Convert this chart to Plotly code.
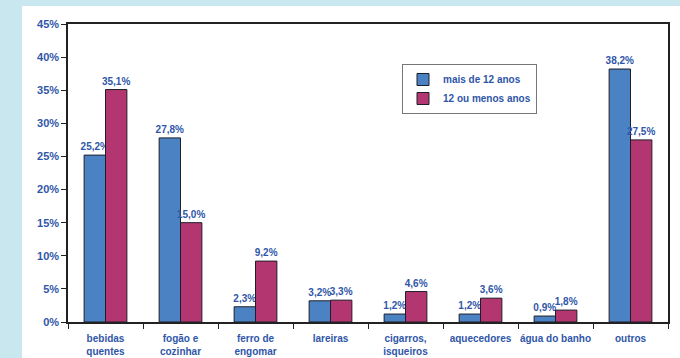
import plotly.graph_objects as go

categories = ["bebidas<br>quentes", "fogão e<br>cozinhar", "ferro de<br>engomar", "lareiras",
              "cigarros,<br>isqueiros", "aquecedores", "água do banho", "outros"]
over12 = [25.2, 27.8, 2.3, 3.2, 1.2, 1.2, 0.9, 38.2]
under12 = [35.1, 15.0, 9.2, 3.3, 4.6, 3.6, 1.8, 27.5]
series_names = ["mais de 12 anos", "12 ou menos anos"]
y_ticks = [0, 5, 10, 15, 20, 25, 30, 35, 40, 45]
y_tick_labels = ["0%", "5%", "10%", "15%", "20%", "25%", "30%", "35%", "40%", "45%"]

TXT = "#2f56a8"
FONT = "Liberation Sans"

def lab(vals):
    return [f"{v:.1f}%".replace(".", ",") for v in vals]

fig = go.Figure()
fig.add_trace(go.Bar(x=categories, y=over12, name=series_names[0],
                     marker=dict(color="#4a82c4", line=dict(color="#1e1e2a", width=1)),
                     text=lab(over12), textposition="outside", cliponaxis=False,
                     constraintext="none",
                     textfont=dict(family=FONT, size=10, color=TXT, weight="bold")))
fig.add_trace(go.Bar(x=categories, y=under12, name=series_names[1],
                     marker=dict(color="#b33670", line=dict(color="#1e1e2a", width=1)),
                     text=lab(under12), textposition="outside", cliponaxis=False,
                     constraintext="none",
                     textfont=dict(family=FONT, size=10, color=TXT, weight="bold")))

L, R, T, B = 68, 12, 24, 36
W, H = 680, 358
pw, ph = W - L - R, H - T - B

fig.update_layout(
    width=W, height=H,
    margin=dict(l=L, r=R, t=T, b=B),
    paper_bgcolor="#c9e7ee",
    plot_bgcolor="white",
    barmode="group", bargap=0.43, bargroupgap=0,
    showlegend=True,
    legend=dict(x=(402 - L) / pw, y=1 - (64 - T) / ph, xanchor="left", yanchor="top",
                bgcolor="white", bordercolor="#777", borderwidth=1,
                font=dict(family=FONT, size=10, color=TXT, weight="bold"),
                itemwidth=30, tracegroupgap=0),
    xaxis=dict(showline=True, linecolor="#222", linewidth=1.5, mirror=True,
               ticks="outside", tickson="boundaries", ticklen=5, tickcolor="#222",
               tickangle=0, automargin=False, ticklabelstandoff=6,
               tickfont=dict(family=FONT, size=10, color=TXT, weight="bold")),
    yaxis=dict(range=[0, 45], tickvals=y_ticks, ticktext=y_tick_labels, showgrid=False,
               showline=True, linecolor="#222", linewidth=1.5, mirror=True,
               ticks="outside", ticklen=5, tickcolor="#222", zeroline=False,
               automargin=False,
               tickfont=dict(family=FONT, size=11, color=TXT, weight="bold")),
    shapes=[dict(type="rect", xref="paper", yref="paper", layer="below",
                 x0=(22 - L) / pw, x1=(W - L) / pw + 0.01,
                 y0=-(H - T - ph) / ph - 0.01, y1=1 + (T - 6) / ph,
                 fillcolor="white", line=dict(width=0))],
)

fig.write_html("out.html")
